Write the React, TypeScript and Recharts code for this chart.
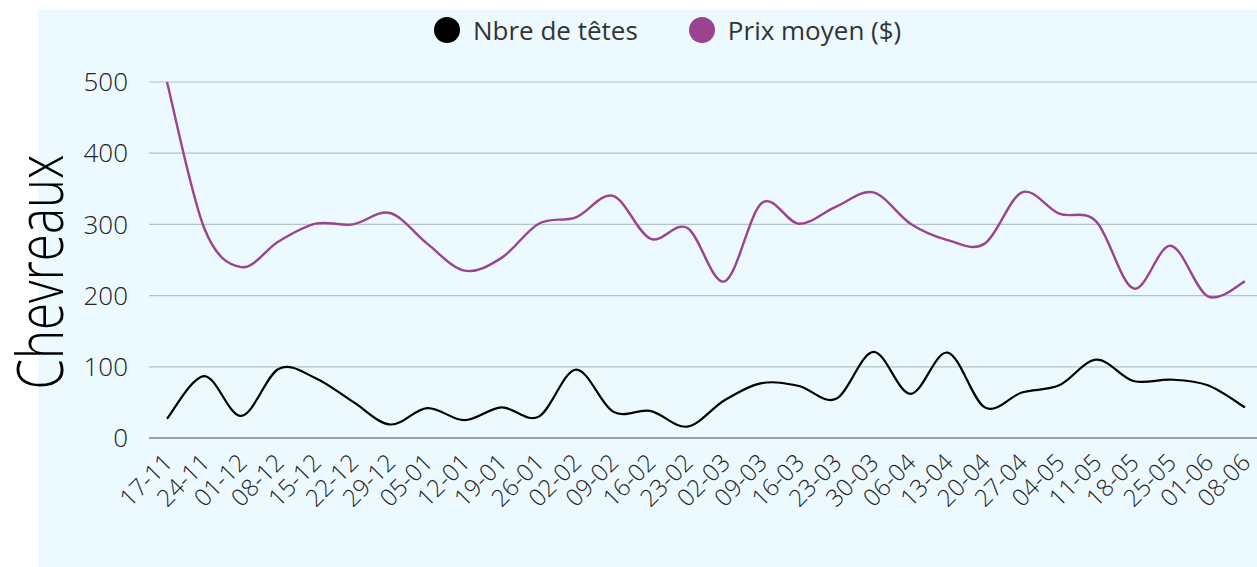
import React from "react";
import {
  LineChart,
  Line,
  XAxis,
  YAxis,
  CartesianGrid,
  Legend,
} from "recharts";

const weeks = [
  "17-11", "24-11", "01-12", "08-12", "15-12", "22-12", "29-12", "05-01",
  "12-01", "19-01", "26-01", "02-02", "09-02", "16-02", "23-02", "02-03",
  "09-03", "16-03", "23-03", "30-03", "06-04", "13-04", "20-04", "27-04",
  "04-05", "11-05", "18-05", "25-05", "01-06", "08-06",
];
const heads = [
  27, 87, 31, 97, 84, 51, 19, 42, 25, 43, 30, 96, 37, 38, 16, 53, 77, 73, 55,
  121, 62, 120, 43, 64, 74, 110, 80, 82, 74, 43,
];
const prices = [
  500, 295, 240, 276, 301, 300, 316, 273, 235, 253, 301, 310, 340, 280, 295,
  220, 330, 301, 325, 345, 301, 278, 273, 345, 315, 304, 210, 270, 199, 220,
];
const yTicks = [0, 100, 200, 300, 400, 500];

const BG = "#ecf9ff";
const PURPLE = "#9a4391";
const FONT = "'Open Sans', sans-serif";

const data = weeks.map((w, i) => ({ week: w, heads: heads[i], price: prices[i] }));

// smooth line like a spreadsheet's "smoothed line" (catmull-rom through the points)
function smoothCurve(context: any) {
  let pts: number[][] = [];
  return {
    areaStart() {},
    areaEnd() {},
    lineStart() {
      pts = [];
    },
    point(x: number, y: number) {
      pts.push([+x, +y]);
    },
    lineEnd() {
      if (!pts.length) return;
      context.moveTo(pts[0][0], pts[0][1]);
      for (let i = 0; i < pts.length - 1; i++) {
        const p0 = pts[i - 1] || pts[i];
        const p1 = pts[i];
        const p2 = pts[i + 1];
        const p3 = pts[i + 2] || pts[i + 1];
        context.bezierCurveTo(
          p1[0] + (p2[0] - p0[0]) / 6,
          p1[1] + (p2[1] - p0[1]) / 6,
          p2[0] - (p3[0] - p1[0]) / 6,
          p2[1] - (p3[1] - p1[1]) / 6,
          p2[0],
          p2[1]
        );
      }
    },
  };
}

const XTick = ({ x, y, payload }: any) => (
  <text
    x={0}
    y={0}
    transform={`translate(${x + 7},${y + 26}) rotate(-45)`}
    textAnchor="end"
    fontSize={24}
    fontFamily={FONT}
    fontWeight={300}
    fill="#222"
  >
    {payload.value}
  </text>
);

const YLabel = ({ viewBox }: any) => {
  const cy = viewBox.y + viewBox.height / 2 + 12;
  return (
    <text
      x={0}
      y={0}
      transform={`translate(63,${cy}) rotate(-90)`}
      textAnchor="middle"
      fontSize={64}
      fontFamily={FONT}
      fontWeight={300}
      fill="#000"
      textLength={235}
      lengthAdjust="spacingAndGlyphs"
    >
      Chevreaux
    </text>
  );
};

const LegendBox = () => (
  <div
    style={{
      height: 72,
      boxSizing: "border-box",
      paddingTop: 7,
      paddingLeft: 434,
      display: "flex",
      alignItems: "flex-start",
      fontFamily: FONT,
      fontSize: 26,
      color: "#333",
    }}
  >
    {[
      { name: "Nbre de têtes", color: "#000" },
      { name: "Prix moyen ($)", color: PURPLE },
    ].map((it) => (
      <div
        key={it.name}
        style={{ display: "flex", alignItems: "center", height: 26, marginRight: 51 }}
      >
        <span
          style={{
            width: 26,
            height: 26,
            borderRadius: 13,
            background: it.color,
            display: "inline-block",
            marginRight: 13,
          }}
        />
        <span style={{ lineHeight: "26px" }}>{it.name}</span>
      </div>
    ))}
  </div>
);

export default function App() {
  return (
    <div
      style={{
        position: "absolute",
        left: 0,
        top: 0,
        width: 1257,
        height: 567,
        background: "#fff",
        overflow: "hidden",
      }}
    >
      <div
        style={{ position: "absolute", left: 38, top: 10, right: 0, bottom: 0, background: BG }}
      />
      <div style={{ position: "absolute", left: 0, top: 0 }}>
        <LineChart
          width={1257}
          height={567}
          data={data}
          margin={{ top: 10, right: 0, bottom: 0, left: 0 }}
        >
          <CartesianGrid vertical={false} stroke="#b6c2c9" strokeWidth={1.2} />
          <Legend verticalAlign="top" content={<LegendBox />} />
          <XAxis
            dataKey="week"
            interval={0}
            height={129}
            tickSize={0}
            tickMargin={0}
            padding={{ left: 18, right: 12 }}
            stroke="#97a1a7"
            strokeWidth={2}
            tick={<XTick />}
          />
          <YAxis
            width={149}
            domain={[0, 500]}
            ticks={yTicks}
            axisLine={false}
            tickLine={false}
            tickSize={0}
            tickMargin={21}
            tick={{ fontSize: 26, fontFamily: FONT, fontWeight: 300, fill: "#222" }}
            label={<YLabel />}
          />
          <Line
            dataKey="price"
            type={smoothCurve as any}
            stroke={PURPLE}
            strokeWidth={2.4}
            dot={false}
            isAnimationActive={false}
          />
          <Line
            dataKey="heads"
            type={smoothCurve as any}
            stroke="#000"
            strokeWidth={2.2}
            dot={false}
            isAnimationActive={false}
          />
        </LineChart>
      </div>
    </div>
  );
}
